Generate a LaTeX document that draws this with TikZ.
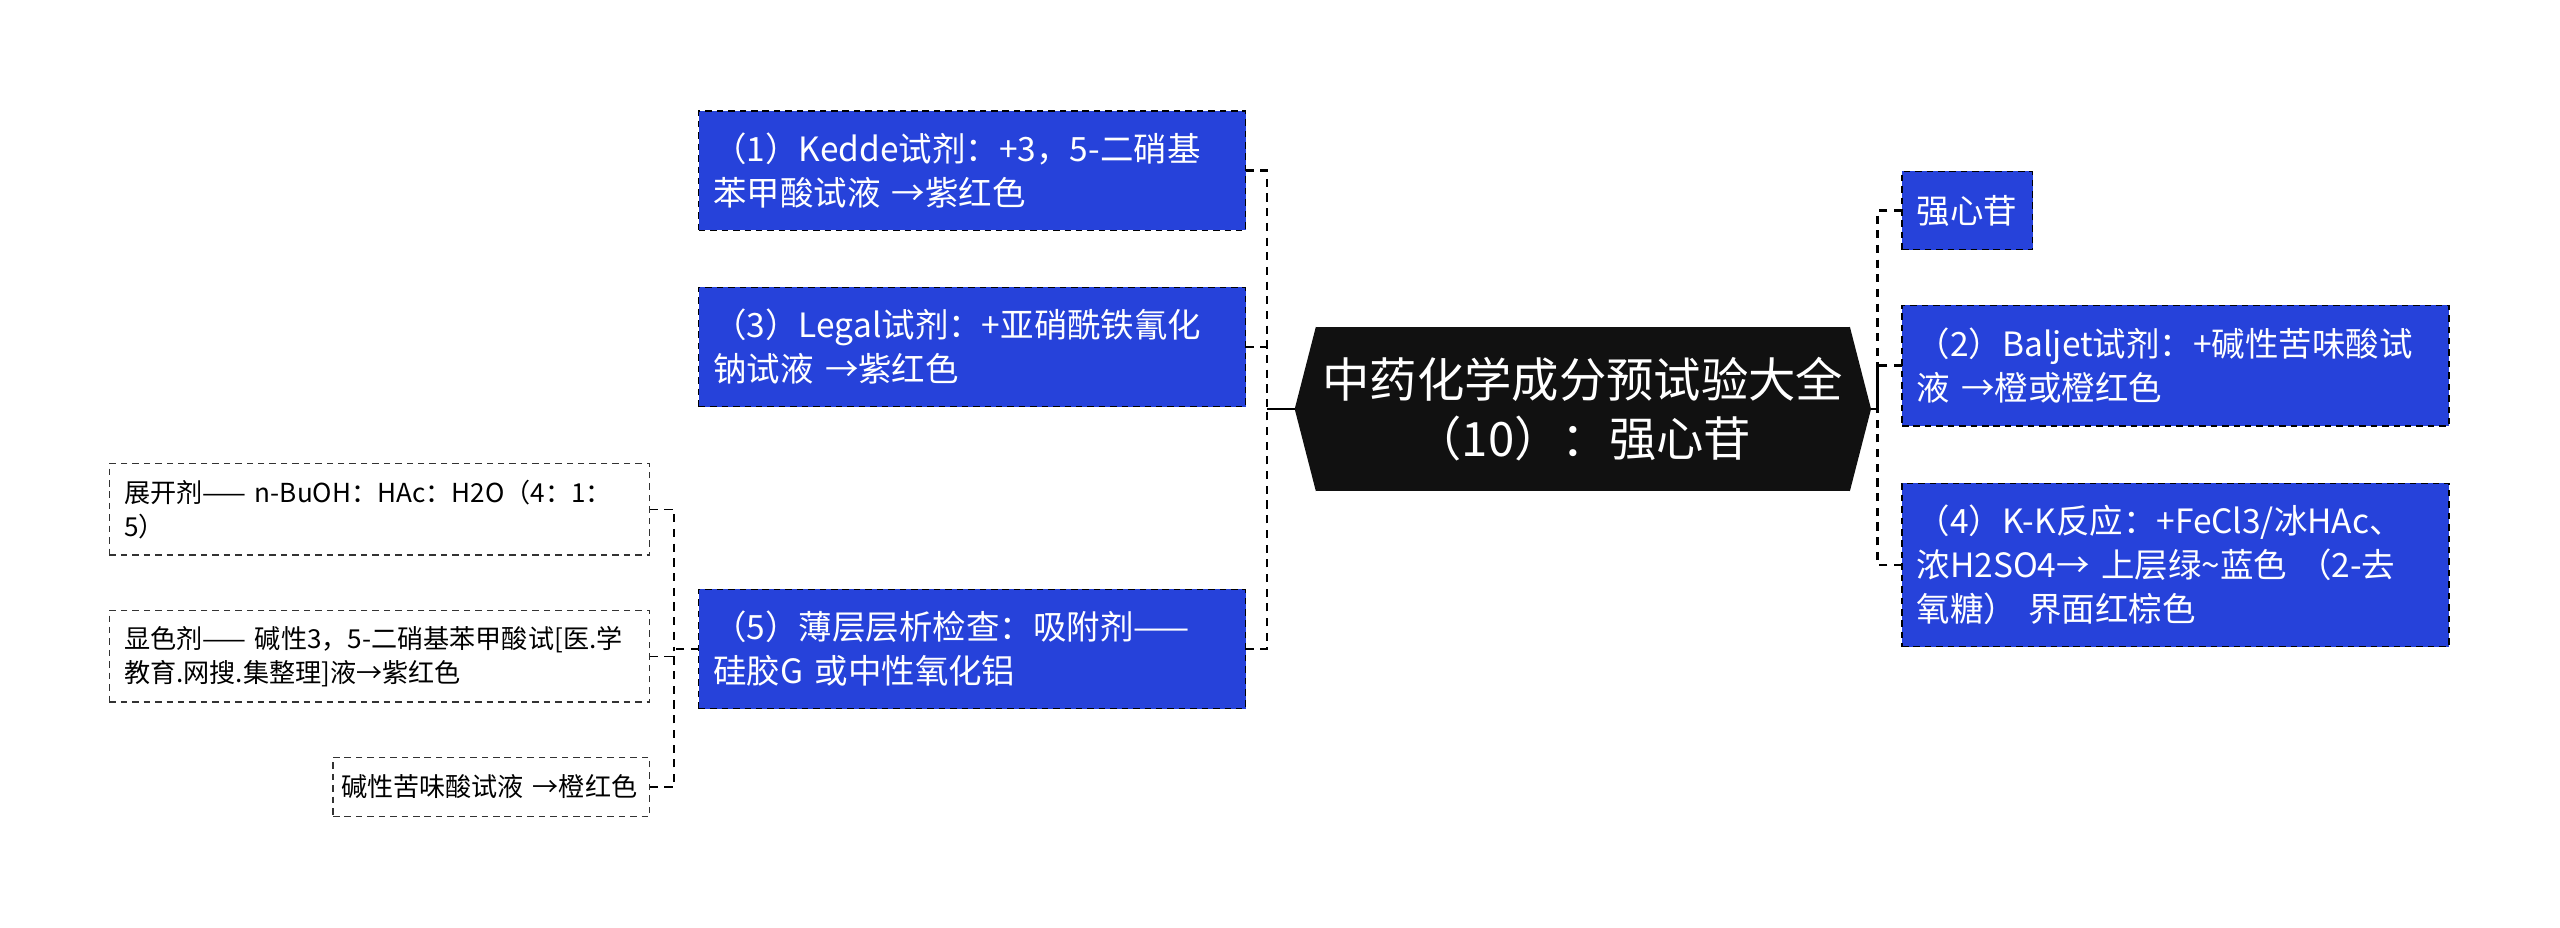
\documentclass[tikz,border=0pt]{standalone}
\usepackage{fontspec}
\setmainfont{Noto Sans CJK SC}
\definecolor{topicblue}{RGB}{38,66,218}
\definecolor{hubblack}{RGB}{17,17,17}

\begin{document}
\begin{tikzpicture}[x=1pt, y=-1pt,
  every node/.style={inner sep=0pt, outer sep=0pt},
  topic/.style={fill=topicblue, draw=black, dashed, dash pattern=on 4pt off 3pt, line width=0.8pt,
    text=white, align=left, anchor=west, inner xsep=9pt, text width=317pt, minimum height=#1,
    font=\fontsize{20.5}{27}\selectfont},
  topic/.default=73,
  leaf/.style={fill=white, draw=black!80, dashed, dash pattern=on 4pt off 3pt, line width=0.8pt,
    align=left, anchor=west, inner xsep=9pt, text width=313pt, minimum height=56pt,
    font=\fontsize{16}{21}\selectfont},
  link/.style={draw=black, line width=1.6pt, dash pattern=on 5pt off 4pt}]
\useasboundingbox (0,0) rectangle (1568,568);

\node[fill=hubblack, text=white, align=center, minimum width=327pt, minimum height=101pt,
  font=\fontsize{29}{36}\selectfont] (hub) at (969.5,250.5) {中药化学成分预试验大全\\（10）：强心苷};
\fill[hubblack] (hub.north west) -- ++(-13,50.5) coordinate (hubw) -- (hub.south west) -- cycle;
\fill[hubblack] (hub.north east) -- ++(13,50.5) coordinate (hube) -- (hub.south east) -- cycle;

\node[topic] (kedde) at (428,104.5) {（1）Kedde试剂：+3，5-二硝基\\苯甲酸试液 →紫红色};
\node[topic] (legal) at (428,212.5) {（3）Legal试剂：+亚硝酰铁氰化\\钠试液 →紫红色};
\node[topic] (tlc) at (428,397.5) {（5）薄层层析检查：吸附剂——\\硅胶G 或中性氧化铝};

\node[topic=48, text width=62pt] (cardiac) at (1165,129) {强心苷};
\node[topic=74] (baljet) at (1165,224) {（2）Baljet试剂：+碱性苦味酸试\\液 →橙或橙红色};
\node[topic=100] (kk) at (1165,346) {（4）K-K反应：+FeCl3/冰HAc、\\浓H2SO4→ 上层绿\textasciitilde 蓝色 （2-去\\氧糖） 界面红棕色};

\node[leaf] (eluent) at (67,312) {展开剂—— n-BuOH：HAc：H2O（4：1：\\5）};
\node[leaf] (stain) at (67,402) {显色剂—— 碱性3，5-二硝基苯甲酸试[医.学\\教育.网搜.集整理]液→紫红色};
\node[leaf, text width=184pt, inner xsep=5pt, minimum height=36pt] (picric) at (204,482) {碱性苦味酸试液 →橙红色};

\coordinate (lj) at (776,250.5);
\coordinate (rj) at (1150,250.5);
\coordinate (tj) at (413,397.5);

\draw[line width=1.6pt] (hubw) -- (lj);
\draw[line width=1.6pt] (hube) -- (rj);
\draw[link] (kedde.east) -| (lj);
\draw[link] (legal.east) -| (lj);
\draw[link] (tlc.east) -| (lj);
\draw[link] (cardiac.west) -| (rj);
\draw[link] (baljet.west) -| (rj);
\draw[link] (kk.west) -| (rj);
\draw[link, line width=1pt] (tlc.west) -- (tj);
\draw[link, line width=1pt] (eluent.east) -| (tj);
\draw[link, line width=1pt] (stain.east) -| (tj);
\draw[link, line width=1pt] (picric.east) -| (tj);
\end{tikzpicture}
\end{document}
